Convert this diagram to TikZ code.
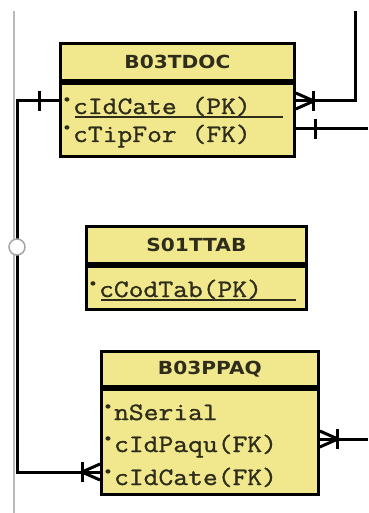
\documentclass[tikz,border=0pt]{standalone}
\usepackage{fontspec}
\newfontfamily\hdrfont[FakeStretch=1.12]{DejaVu Sans}
\newfontfamily\colfont[FakeStretch=1.15,FakeBold=1.2]{Latin Modern Mono}
\usetikzlibrary{positioning,calc}
\definecolor{tabfill}{HTML}{F1E88E}
\definecolor{inkdark}{HTML}{2E2C1A}
\newcommand\keydot{\raisebox{8pt}{\hdrfont\fontsize{15}{15}\selectfont •}\hspace{1pt}}

\begin{document}
\begin{tikzpicture}[x=1pt,y=-1pt,
  tabhead/.style={draw,fill=tabfill,line width=2.8pt,anchor=north west,minimum height=37pt,inner sep=0pt,font=\hdrfont\bfseries\fontsize{18}{20}\selectfont,text=inkdark},
  tabbody/.style={draw,fill=tabfill,line width=2.8pt,inner sep=0pt},
  col/.style={anchor=base west,inner sep=0pt,text height=29pt,text depth=3pt,font=\colfont\fontsize{25}{27}\selectfont,text=inkdark},
  conn/.style={line width=3pt,black},
  uline/.style={line width=1.5pt,inkdark},
  manyone/.pic={\draw[conn] (0,-8) -- (18,0) -- (0,8); \draw[conn] (18,-10) -- (18,10);},
  onebar/.pic={\draw[conn] (20,-10) -- (20,10);}
]
\fill[white] (0,0) rectangle (368,513);
\useasboundingbox (0,0) rectangle (368,513);
\draw[gray!55,line width=1.2pt] (14,11) -- (14,513);

% B03TDOC
\node[tabhead,minimum width=234pt] (tdoc) at (59,42) {B03TDOC};
\node[tabbody,minimum width=234pt,minimum height=73pt,below=0pt of tdoc] (tdocb) {};
\node[col] (tdoc1) at (62,114) {\keydot cIdCate (PK)};
\node[col] (tdoc2) at (62,142) {\keydot cTipFor (FK)};

% S01TTAB
\node[tabhead,minimum width=220pt] (ttab) at (85,225) {S01TTAB};
\node[tabbody,minimum width=220pt,minimum height=43pt,below=0pt of ttab] (ttabb) {};
\node[col] (ttab1) at (88,297) {\keydot cCodTab(PK)};

% B03PPAQ
\node[tabhead,minimum width=217pt,minimum height=35pt] (ppaq) at (100,350) {B03PPAQ};
\node[tabbody,minimum width=217pt,minimum height=105pt,below=0pt of ppaq] (ppaqb) {};
\node[col] (ppaq1) at (103,420) {\keydot nSerial};
\node[col] (ppaq2) at (103,452) {\keydot cIdPaqu(FK)};
\node[col] (ppaq3) at (103,485) {\keydot cIdCate(FK)};

% underlines
\draw[uline] ($(tdoc1.south west)+(13,0)$) -- ($(tdoc1.south -| tdocb.east)+(-13,0)$);
\draw[uline] ($(ttab1.south west)+(13,0)$) -- ($(ttab1.south -| ttabb.east)+(-12,0)$);

% relations
\coordinate (bus) at (17,247);
\coordinate (toprise) at (355,11);
\coordinate (rim) at (368,0);
\draw[conn] (tdocb.west |- tdoc1) -| (bus) |- (ppaqb.west |- ppaq3);
\draw[conn] (tdocb.east |- tdoc1) -| (toprise);
\draw[conn] (tdocb.east |- tdoc2) -- (tdoc2 -| rim);
\draw[conn] (ppaqb.east |- ppaq2) -- (ppaq2 -| rim);
\node[circle,draw=gray!70,fill=white,line width=1.5pt,minimum size=16pt,inner sep=0pt] (opt) at (bus) {};
\pic at (tdocb.east |- tdoc1) {manyone};
\pic at (ppaqb.east |- ppaq2) {manyone};
\pic[rotate=180] at (ppaqb.west |- ppaq3) {manyone};
\pic at (tdocb.east |- tdoc2) {onebar};
\pic[rotate=180] at (tdocb.west |- tdoc1) {onebar};
\end{tikzpicture}
\end{document}
